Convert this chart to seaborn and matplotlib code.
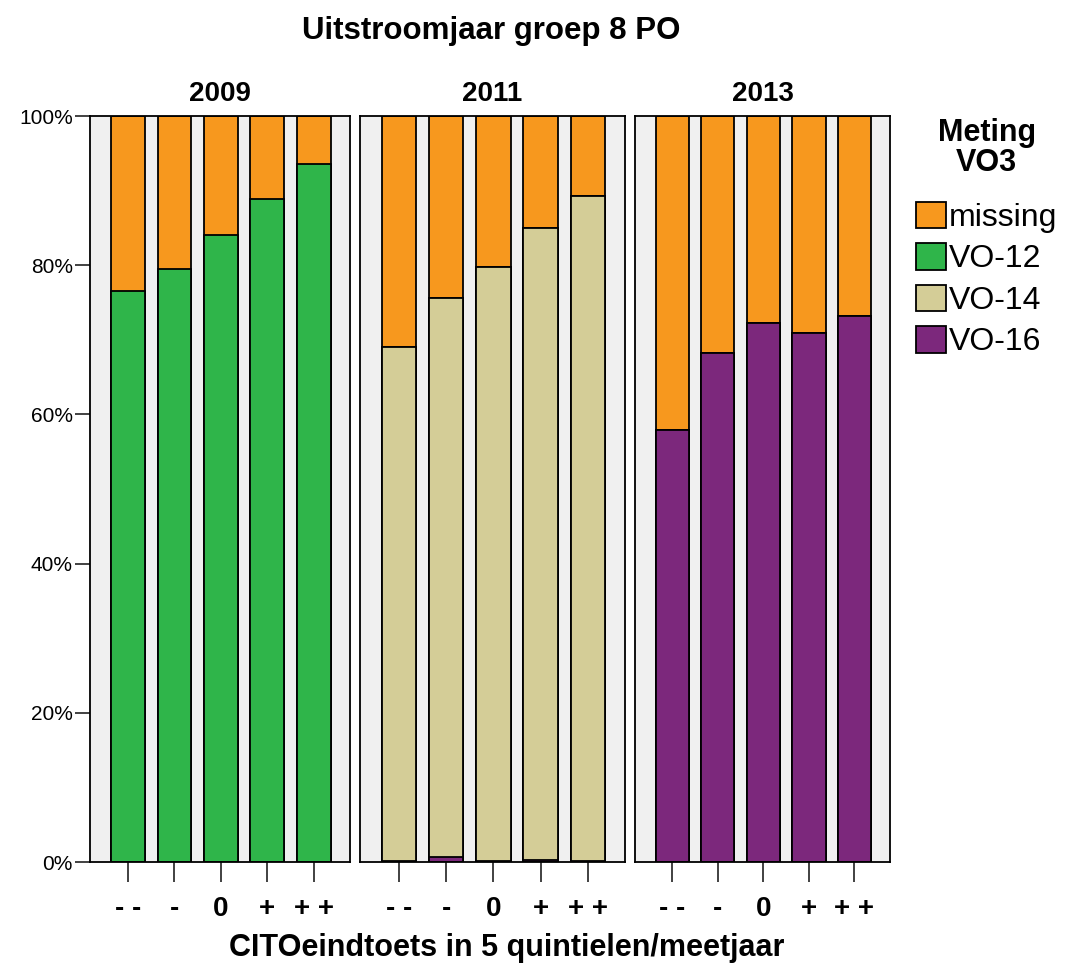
import matplotlib
matplotlib.use("Agg")
import matplotlib.pyplot as plt
import numpy as np
import pandas as pd
import seaborn as sns
from matplotlib.patches import Patch

sns.set_style("white")
plt.rcParams['font.family'] = ['Liberation Sans', 'DejaVu Sans']
plt.rcParams['text.color'] = 'black'
plt.rcParams['xtick.labelcolor'] = 'black'
plt.rcParams['ytick.labelcolor'] = 'black'

# data: percentages per quintile, per year
quintiles = ['- -', '-', '0', '+', '+ +']
years = ['2009', '2011', '2013']
vo12 = {'2009': [76.6, 79.5, 84.0, 88.9, 93.6],
        '2011': [0, 0, 0, 0, 0],
        '2013': [0, 0, 0, 0, 0]}
vo14 = {'2009': [0, 0, 0, 0, 0],
        '2011': [69.0, 74.9, 79.6, 84.7, 89.1],
        '2013': [0, 0, 0, 0, 0]}
vo16 = {'2009': [0, 0, 0, 0, 0],
        '2011': [0.1, 0.7, 0.1, 0.3, 0.2],
        '2013': [57.9, 68.2, 72.2, 70.9, 73.2]}

colors = {'missing': '#f7981e', 'VO-12': '#2fb54a', 'VO-14': '#d4cd97', 'VO-16': '#7c287c'}

fig = plt.figure(figsize=(10.66, 9.74), dpi=100)
W, H = 1066, 974
panels_x = [(90, 350), (360, 625), (635, 890)]
top, bottom = 116, 862

for i, yr in enumerate(years):
    x0, x1 = panels_x[i]
    ax = fig.add_axes([x0 / W, 1 - bottom / H, (x1 - x0) / W, (bottom - top) / H])
    ax.set_facecolor('#f0f0f0')
    v16 = np.array(vo16[yr])
    v14 = np.array(vo14[yr])
    v12 = np.array(vo12[yr])
    layers = [
        ('missing', np.full(5, 100.0)),
        ('VO-12', v16 + v14 + v12),
        ('VO-14', v16 + v14),
        ('VO-16', v16),
    ]
    for name, vals in layers:
        if vals.max() <= 0:
            continue
        df = pd.DataFrame({'q': quintiles, 'v': vals})
        sns.barplot(data=df, x='q', y='v', ax=ax, color=colors[name],
                    saturation=1, width=0.73, edgecolor='black', linewidth=1.3)
    ax.set_xlim(-0.82, 4.78)
    ax.set_ylim(0, 100)
    ax.set_xlabel('')
    ax.set_ylabel('')
    ax.set_title(yr, fontsize=20, fontweight='bold', pad=11)
    for s in ax.spines.values():
        s.set_visible(True)
        s.set_color('black')
        s.set_linewidth(1.3)
    ax.tick_params(axis='x', length=14.5, width=1.3, color='#333333', pad=10,
                   labelsize=20, bottom=True)
    for lab in ax.get_xticklabels():
        lab.set_fontweight('bold')
    if i == 0:
        ax.set_yticks([0, 20, 40, 60, 80, 100])
        ax.set_yticklabels(['0%', '20%', '40%', '60%', '80%', '100%'])
        ax.tick_params(axis='y', length=11, width=1.3, color='#333333', pad=1.5,
                       labelsize=15, left=True)
    else:
        ax.set_yticks([])

fig.text(491 / W, 1 - 31 / H, 'Uitstroomjaar groep 8 PO', ha='center', va='center',
         fontsize=22.5, fontweight='bold')
fig.text(507 / W, 1 - 948 / H, 'CITOeindtoets in 5 quintielen/meetjaar', ha='center',
         va='center', fontsize=22, fontweight='bold')

handles = [Patch(facecolor=colors[k], edgecolor='black', linewidth=1.3)
           for k in ['missing', 'VO-12', 'VO-14', 'VO-16']]
leg = fig.legend(handles, ['missing', 'VO-12', 'VO-14', 'VO-16'],
                 title='Meting\nVO3', loc='upper left', bbox_to_anchor=(916 / W, 1 - 118 / H),
                 frameon=False, fontsize=23, handlelength=0.95, handleheight=0.9,
                 handletextpad=0.08, labelspacing=0.32, borderpad=0, borderaxespad=0,
                 title_fontproperties={'weight': 'bold', 'size': 22})
leg._legend_box.align = 'center'
leg._legend_box.sep = 17
leg.get_title().set_linespacing(1.0)
leg.get_title().set_multialignment('center')

fig.savefig('out.png', dpi=100)
